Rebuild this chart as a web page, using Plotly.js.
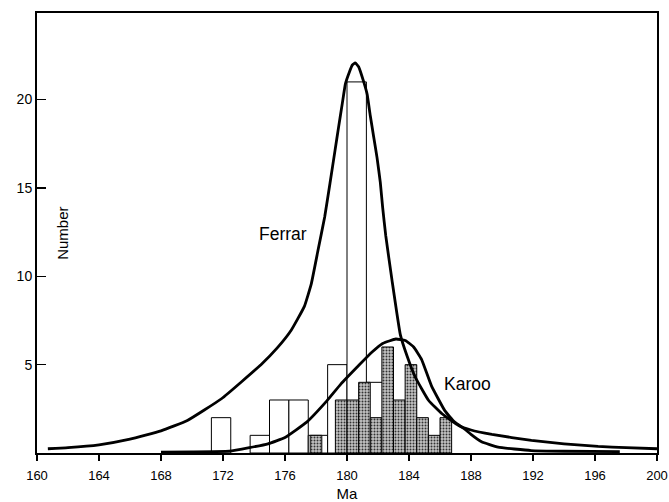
<!DOCTYPE html>
<html>
<head>
<meta charset="utf-8">
<script src="https://cdn.plot.ly/plotly-3.0.1.min.js"></script>
<style>html,body{margin:0;padding:0;background:#fff}#chart{width:669px;height:502px}</style>
</head>
<body>
<div id="chart"></div>
<script>
// Ferrar histogram (1.25 Ma bins)
const ferrarBinCenters = [171.875, 174.375, 175.625, 176.875, 178.125, 179.375, 180.625, 181.875];
const ferrarCounts     = [2, 1, 3, 3, 1, 5, 21, 4];
// Karoo histogram (0.75 Ma bins)
const karooBinCenters = [178.0, 179.625, 180.375, 181.125, 181.875, 182.625, 183.375, 184.125, 184.875, 185.625, 186.375];
const karooCounts     = [1, 3, 3, 4, 2, 6, 3, 5, 2, 1, 2];
// Ferrar probability curve
const ferrarCurveX = [160.7, 162, 164, 166, 168, 169.7, 171.9, 174.45, 175.5, 176.4, 177.25, 177.7, 178.13, 178.56, 178.9, 179.23, 179.45, 179.7, 179.9, 180.15, 180.35, 180.53, 180.75, 181.08, 181.3, 181.5, 181.72, 181.94, 182.15, 182.3, 182.5, 182.9, 183.44, 183.87, 184.4, 185.27, 186.13, 187.2, 188, 189.35, 191.9, 194, 196.2, 198, 200];
const ferrarCurveY = [0.24, 0.3, 0.46, 0.78, 1.25, 1.84, 3.07, 5.0, 5.95, 6.95, 8.3, 9.59, 11.47, 13.36, 15.25, 17.14, 18.4, 19.8, 20.9, 21.55, 21.96, 22.08, 21.86, 21.0, 20.3, 19.1, 17.9, 16.7, 15.3, 13.9, 12.3, 9.8, 6.7, 5.5, 4.3, 2.97, 2.22, 1.56, 1.3, 1.05, 0.71, 0.52, 0.37, 0.3, 0.24];
// Karoo probability curve
const karooCurveX = [168, 170, 172.4, 173.7, 174.9, 176.0, 177.4, 178.7, 179.6, 180.75, 181.6, 182.3, 183.15, 183.76, 184.3, 184.81, 185.45, 186.31, 186.95, 187.6, 188.0, 188.68, 189.75, 191.88, 194, 197.6];
const karooCurveY = [0.05, 0.06, 0.1, 0.3, 0.52, 0.88, 1.75, 2.95, 3.9, 4.95, 5.7, 6.2, 6.45, 6.37, 6.0, 5.3, 3.8, 2.4, 1.75, 1.35, 1.05, 0.63, 0.33, 0.14, 0.1, 0.08];

const ferrarBars = {
  type: 'bar', x: ferrarBinCenters, y: ferrarCounts, width: 1.25,
  marker: {color: '#ffffff', line: {color: '#000', width: 1}},
  hoverinfo: 'skip', showlegend: false
};
const karooBars = {
  type: 'bar', x: karooBinCenters, y: karooCounts, width: 0.75,
  marker: {color: '#b8b8b8', line: {color: '#000', width: 1},
    pattern: {shape: '.', size: 3, solidity: 0.35, fgcolor: '#333', bgcolor: '#c4c4c4', fillmode: 'replace'}},
  hoverinfo: 'skip', showlegend: false
};
const ferrarLine = {
  type: 'scatter', mode: 'lines', x: ferrarCurveX, y: ferrarCurveY,
  line: {color: '#000', width: 2.8, shape: 'spline', smoothing: 0.35},
  hoverinfo: 'skip', showlegend: false
};
const karooLine = {
  type: 'scatter', mode: 'lines', x: karooCurveX, y: karooCurveY,
  line: {color: '#000', width: 2.8, shape: 'spline', smoothing: 0.35},
  hoverinfo: 'skip', showlegend: false
};

const layout = {
  width: 669, height: 502,
  margin: {l: 37, r: 12, t: 13, b: 49},
  paper_bgcolor: '#fff', plot_bgcolor: '#fff',
  barmode: 'overlay', bargap: 0,
  font: {family: 'Liberation Sans, Arial, sans-serif', color: '#000', size: 13},
  xaxis: {
    range: [160, 200], tickmode: 'linear', tick0: 160, dtick: 4,
    ticks: 'outside', ticklen: 6, tickwidth: 1.5, tickcolor: '#000',
    showline: true, linecolor: '#000', linewidth: 2, mirror: true,
    showgrid: false, zeroline: false, ticklabelstandoff: 3,
    tickfont: {size: 13},
    title: {text: 'Ma', font: {size: 15}, standoff: 9}
  },
  yaxis: {
    range: [0, 24.9], tickvals: [5, 10, 15, 20],
    ticks: 'inside', ticklen: 9, tickwidth: 1.5, tickcolor: '#000',
    showline: true, linecolor: '#000', linewidth: 2, mirror: true,
    showgrid: false, zeroline: false, tickfont: {size: 14}
  },
  annotations: [
    {text: 'Number', xref: 'paper', yref: 'paper', x: 0.04, y: 0.5, textangle: -90,
     showarrow: false, font: {size: 15}, xanchor: 'center', yanchor: 'middle'},
    {text: 'Ferrar', xref: 'x', yref: 'y', x: 175.9, y: 12.4, showarrow: false,
     font: {size: 17.5}, xanchor: 'center', yanchor: 'middle'},
    {text: 'Karoo', xref: 'x', yref: 'y', x: 187.75, y: 3.92, showarrow: false,
     font: {size: 17.5}, xanchor: 'center', yanchor: 'middle'}
  ]
};

Plotly.newPlot('chart', [ferrarBars, karooBars, ferrarLine, karooLine], layout, {displayModeBar: false, staticPlot: true});
</script>
</body>
</html>
